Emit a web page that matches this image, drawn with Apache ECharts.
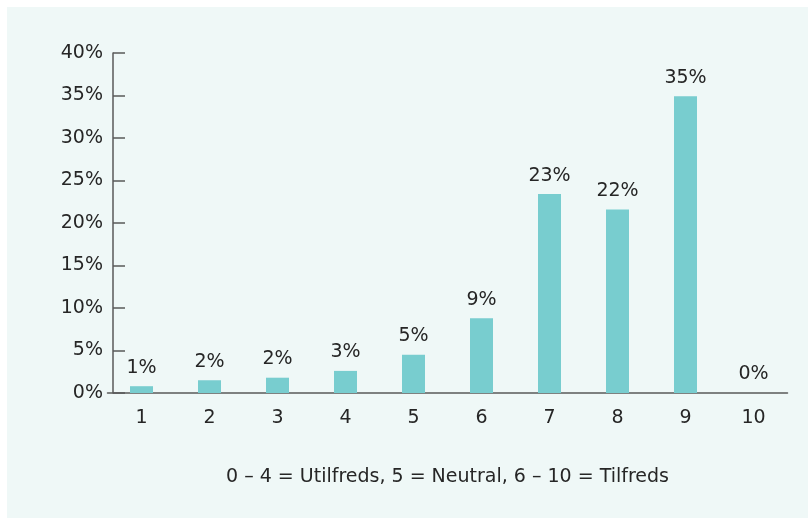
<!DOCTYPE html>
<html>
<head>
<meta charset="utf-8">
<script src="https://cdn.jsdelivr.net/npm/echarts@6/dist/echarts.min.js"></script>
<style>
  html, body { margin: 0; padding: 0; background: #ffffff; }
  #panel { position: absolute; left: 7px; top: 7px; right: 0; bottom: 0; width: 801px; height: 511px; background: #eff8f7; }
  #chart { position: absolute; left: 0; top: 0; width: 808px; height: 518px; }
</style>
</head>
<body>
<div id="panel"></div>
<div id="chart"></div>
<script>
// Satisfaction score (1-10) and share of respondents, in percent
const scores = ['1', '2', '3', '4', '5', '6', '7', '8', '9', '10'];
const shares = [0.8, 1.5, 1.8, 2.6, 4.5, 8.8, 23.4, 21.6, 34.9, 0];
const scaleNote = '0 – 4 = Utilfreds, 5 = Neutral, 6 – 10 = Tilfreds';

const FONT = 'DejaVu Sans';
const TEXT = '#262626';
const AXIS = '#5a5a5a';

const chart = echarts.init(document.getElementById('chart'), null, { renderer: 'canvas' });
chart.setOption({
  backgroundColor: 'transparent',
  animation: false,
  textStyle: { fontFamily: FONT },
  grid: { left: 107.5, width: 680, top: 53, height: 340 },
  xAxis: {
    type: 'category',
    data: scores,
    axisLine: { lineStyle: { color: AXIS, width: 1.5 } },
    axisTick: { show: false },
    axisLabel: { color: TEXT, fontSize: 19, fontFamily: FONT, margin: 16 },
    name: scaleNote,
    nameLocation: 'middle',
    nameGap: 75,
    nameTextStyle: { color: TEXT, fontSize: 19, fontFamily: FONT }
  },
  yAxis: {
    type: 'value',
    min: 0,
    max: 40,
    interval: 5,
    offset: -5.5,
    axisLine: { show: true, lineStyle: { color: AXIS, width: 1.5 } },
    axisTick: { show: true, inside: true, length: 12, lineStyle: { color: AXIS, width: 1.5 } },
    splitLine: { show: false },
    axisLabel: { color: TEXT, fontSize: 19, fontFamily: FONT, margin: 10, formatter: v => v + '%' }
  },
  series: [{
    type: 'bar',
    data: shares,
    barWidth: 23,
    itemStyle: { color: '#78cdcf' },
    label: {
      show: true,
      position: 'top',
      distance: 9,
      color: TEXT,
      fontSize: 19,
      fontFamily: FONT,
      formatter: p => Math.round(p.value) + '%'
    }
  }]
});
</script>
</body>
</html>
